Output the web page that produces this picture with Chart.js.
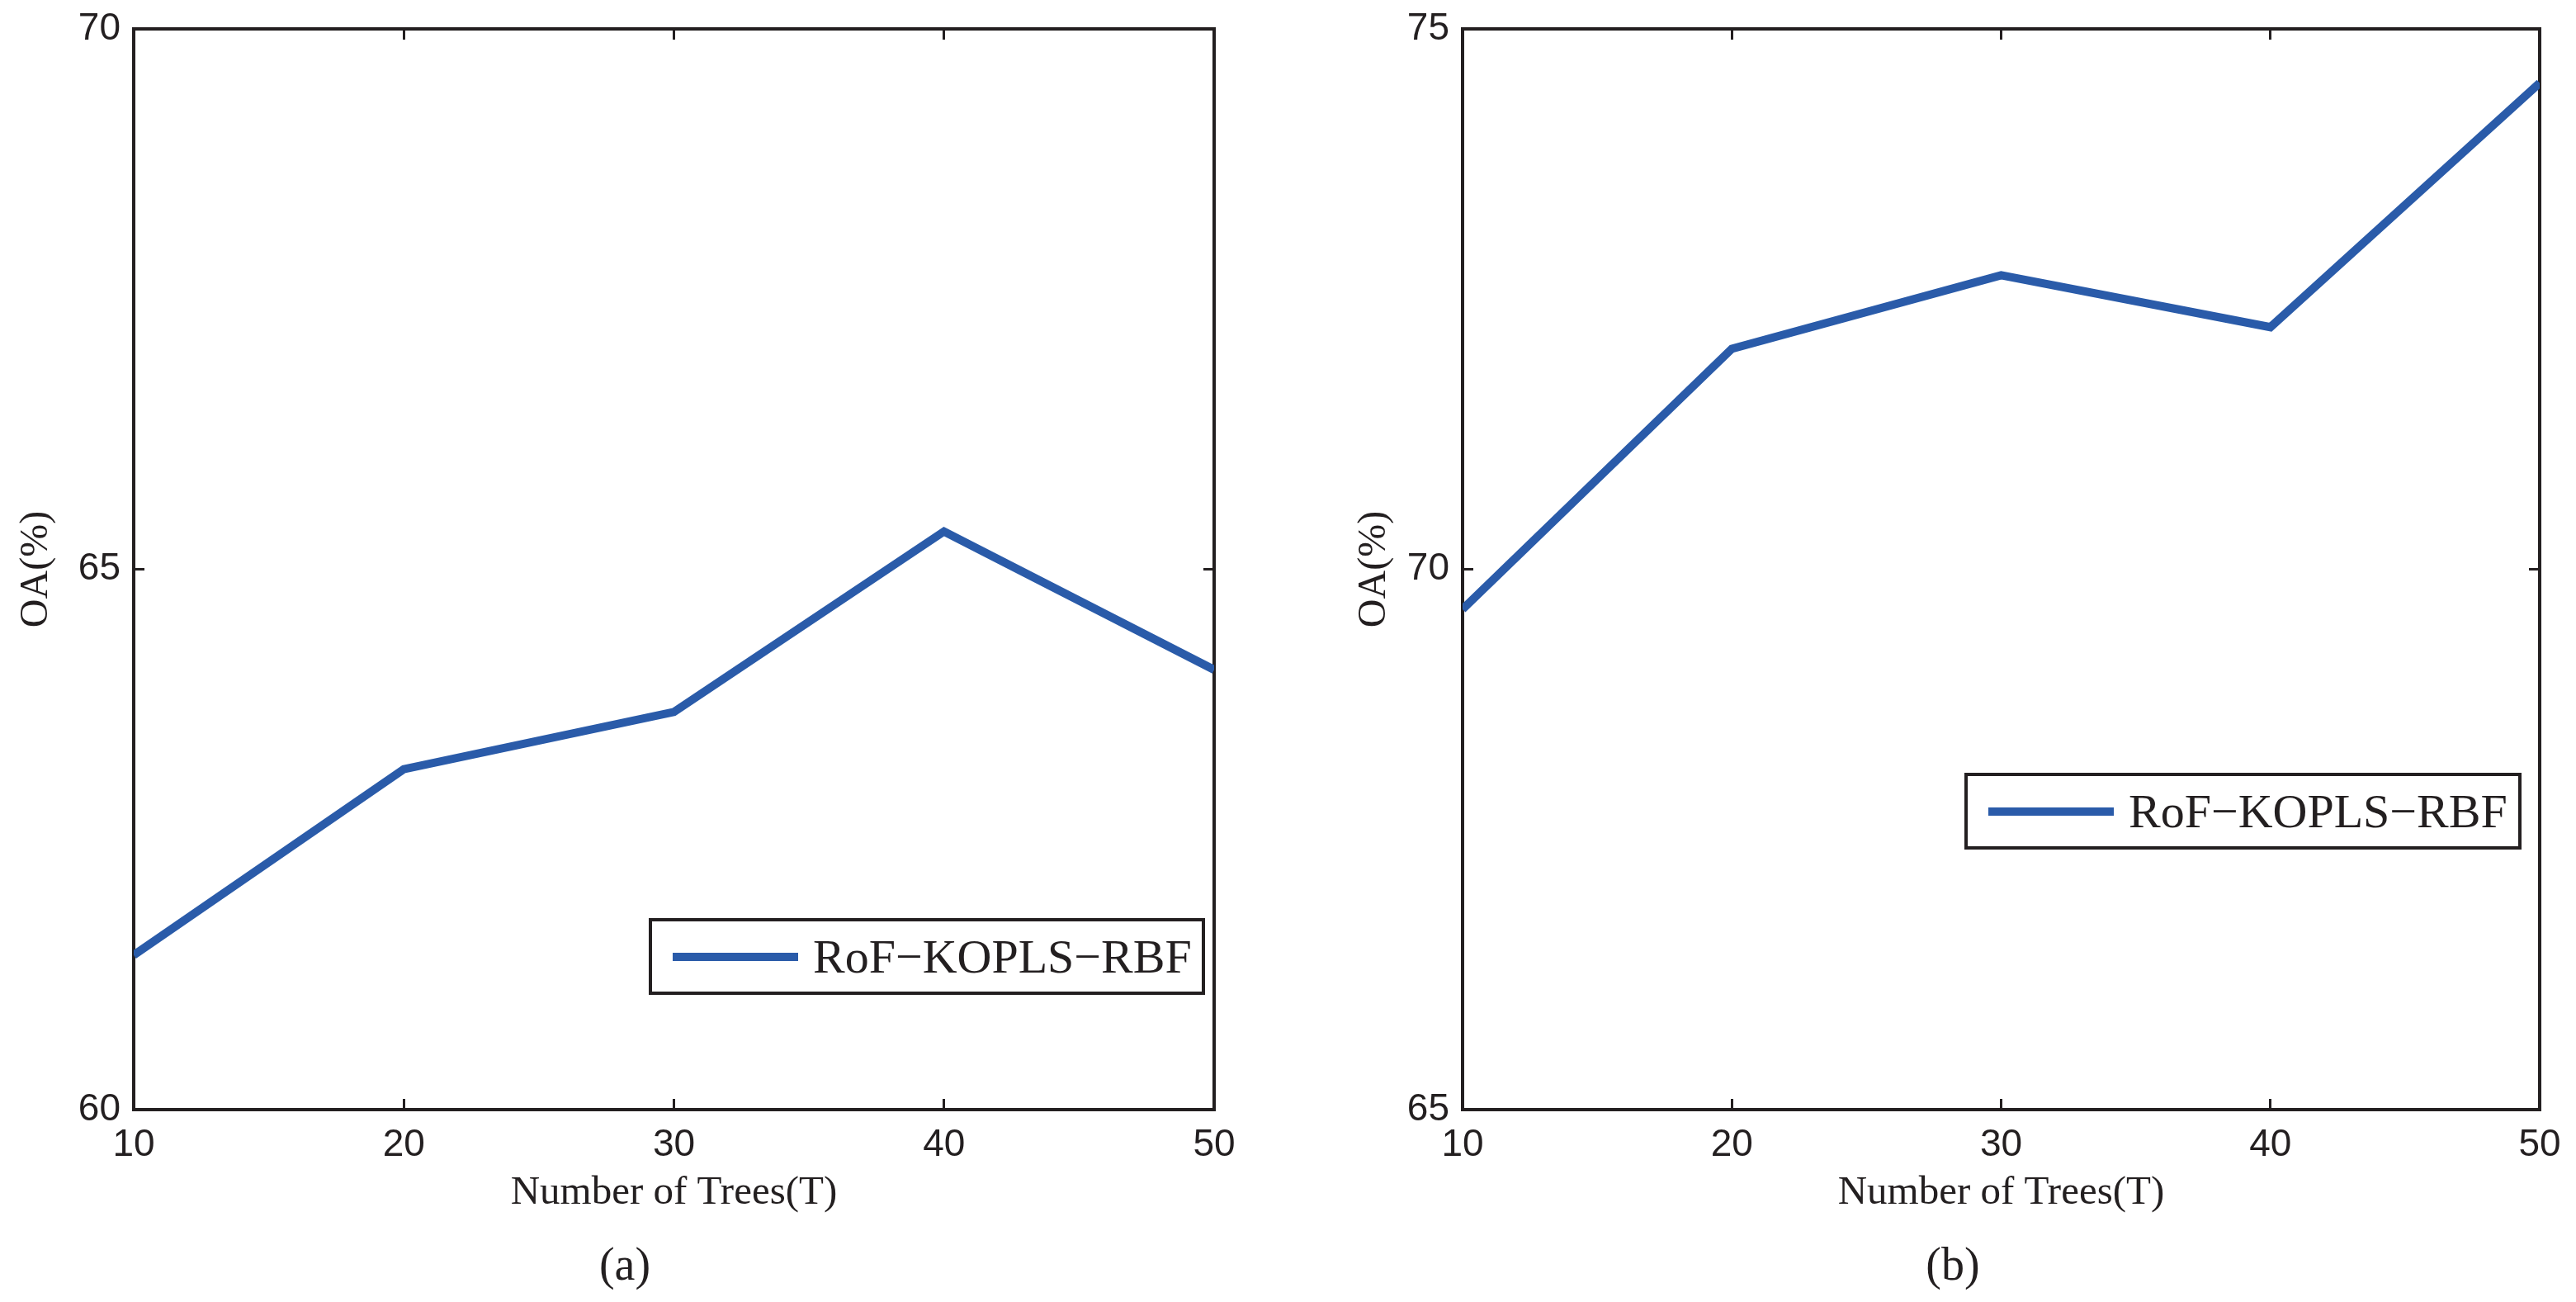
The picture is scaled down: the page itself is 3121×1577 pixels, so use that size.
<!DOCTYPE html>
<html>
<head>
<meta charset="utf-8">
<script src="https://cdn.jsdelivr.net/npm/chart.js@4.4.1/dist/chart.umd.min.js"></script>
<style>
  html, body { margin: 0; padding: 0; background: #fff; }
  body { width: 3121px; height: 1577px; position: relative; overflow: hidden; }
  canvas { position: absolute; top: 0; }
  .legend { position: absolute; box-sizing: border-box; border: 4px solid #231f20; background: #fff;
            display: flex; align-items: center; font-family: 'Liberation Serif', serif; font-size: 58px; color: #231f20; }
  .legend .swatch { width: 152px; height: 10px; margin-left: 25px; margin-right: 18px; }
  .caption { position: absolute; top: 1503px; font-family: 'Liberation Serif', serif; font-size: 56px;
             line-height: 1; color: #231f20; transform: translateX(-50%); }
</style>
</head>
<body>
<canvas id="chartA" width="1560" height="1500" style="left:0"></canvas>
<canvas id="chartB" width="1561" height="1500" style="left:1560px"></canvas>
<div class="legend" id="legendA" style="left:786px;top:1112px;width:674px;height:93px"></div>
<div class="legend" id="legendB" style="left:2380px;top:936px;width:675px;height:93px"></div>
<div class="caption" style="left:757px">(a)</div>
<div class="caption" style="left:2366px">(b)</div>
<script>
// data
const trees = [10, 20, 30, 40, 50];
const oaA = [61.43, 63.15, 63.68, 65.35, 64.07];
const oaB = [69.63, 72.04, 72.72, 72.24, 74.5];
const yTicksA = [60, 65, 70];
const yTicksB = [65, 70, 75];
const seriesName = 'RoF\u2212KOPLS\u2212RBF';

const axisColor = '#231f20';
const lineColor = '#2a5ba9';

function setTicks(values) {
  return function (scale) {
    scale.ticks = values.map(v => ({ value: v }));
  };
}

// drop the label overhang padding so layout.padding alone places the plot box
function noPad(s) {
  s.paddingTop = 0; s.paddingBottom = 0; s.paddingLeft = 0; s.paddingRight = 0;
}

function frameAxis(axis, position, min, max, values) {
  return {
    type: 'linear', axis: axis, position: position, min: min, max: max,
    afterBuildTicks: setTicks(values),
    afterFit: s => { if (axis === 'x') s.height = 0; else s.width = 0; noPad(s); },
    ticks: { display: false },
    grid: { drawOnChartArea: false, tickLength: -13, color: axisColor, lineWidth: 3 },
    border: { display: true, color: axisColor, width: 4 }
  };
}

function makeChart(id, values, yTicks, yWidth, yTitlePad, rightPad) {
  const yMin = yTicks[0], yMax = yTicks[yTicks.length - 1];
  const tickFont = { family: "'Liberation Sans', Arial, sans-serif", size: 46 };
  return new Chart(document.getElementById(id), {
    type: 'line',
    data: {
      datasets: [{
        label: seriesName,
        data: trees.map((t, i) => ({ x: t, y: values[i] })),
        borderColor: lineColor,
        backgroundColor: lineColor,
        borderWidth: 10,
        pointRadius: 0,
        tension: 0
      }]
    },
    options: {
      responsive: false,
      animation: false,
      devicePixelRatio: 1,
      layout: { padding: { top: 35, right: rightPad, left: 0, bottom: 0 } },
      plugins: { legend: { display: false }, tooltip: { enabled: false } },
      scales: {
        x: {
          type: 'linear', position: 'bottom', min: trees[0], max: trees[trees.length - 1],
          afterBuildTicks: setTicks(trees),
          afterFit: s => { s.height = 156; noPad(s); },
          ticks: { font: tickFont, color: axisColor, padding: 29, maxRotation: 0 },
          grid: { drawOnChartArea: false, tickLength: -13, color: axisColor, lineWidth: 3 },
          border: { display: true, color: axisColor, width: 4 },
          title: { display: true, text: 'Number of Trees(T)', color: axisColor,
                   font: { family: "'Liberation Serif', serif", size: 49 }, padding: { top: 0, bottom: 25 } }
        },
        y: {
          type: 'linear', position: 'left', min: yMin, max: yMax,
          afterBuildTicks: setTicks(yTicks),
          afterFit: s => { s.width = yWidth; noPad(s); },
          ticks: { font: tickFont, color: axisColor, padding: 29 },
          grid: { drawOnChartArea: false, tickLength: -13, color: axisColor, lineWidth: 3 },
          border: { display: true, color: axisColor, width: 4 },
          title: { display: true, text: 'OA(%)', color: axisColor,
                   font: { family: "'Liberation Serif', serif", size: 48 }, padding: { top: yTitlePad, bottom: 0 } }
        },
        x2: frameAxis('x', 'top', trees[0], trees[trees.length - 1], trees),
        y2: frameAxis('y', 'right', yMin, yMax, yTicks)
      }
    }
  });
}

function buildLegend(chart, boxId) {
  const box = document.getElementById(boxId);
  chart.data.datasets.forEach(ds => {
    const sw = document.createElement('span');
    sw.className = 'swatch';
    sw.style.background = ds.borderColor;
    const txt = document.createElement('span');
    txt.textContent = ds.label;
    box.appendChild(sw);
    box.appendChild(txt);
  });
}

const chartA = makeChart('chartA', oaA, yTicksA, 162, 16, 89);
const chartB = makeChart('chartB', oaB, yTicksB, 212, 77, 44);
buildLegend(chartA, 'legendA');
buildLegend(chartB, 'legendB');
</script>
</body>
</html>
